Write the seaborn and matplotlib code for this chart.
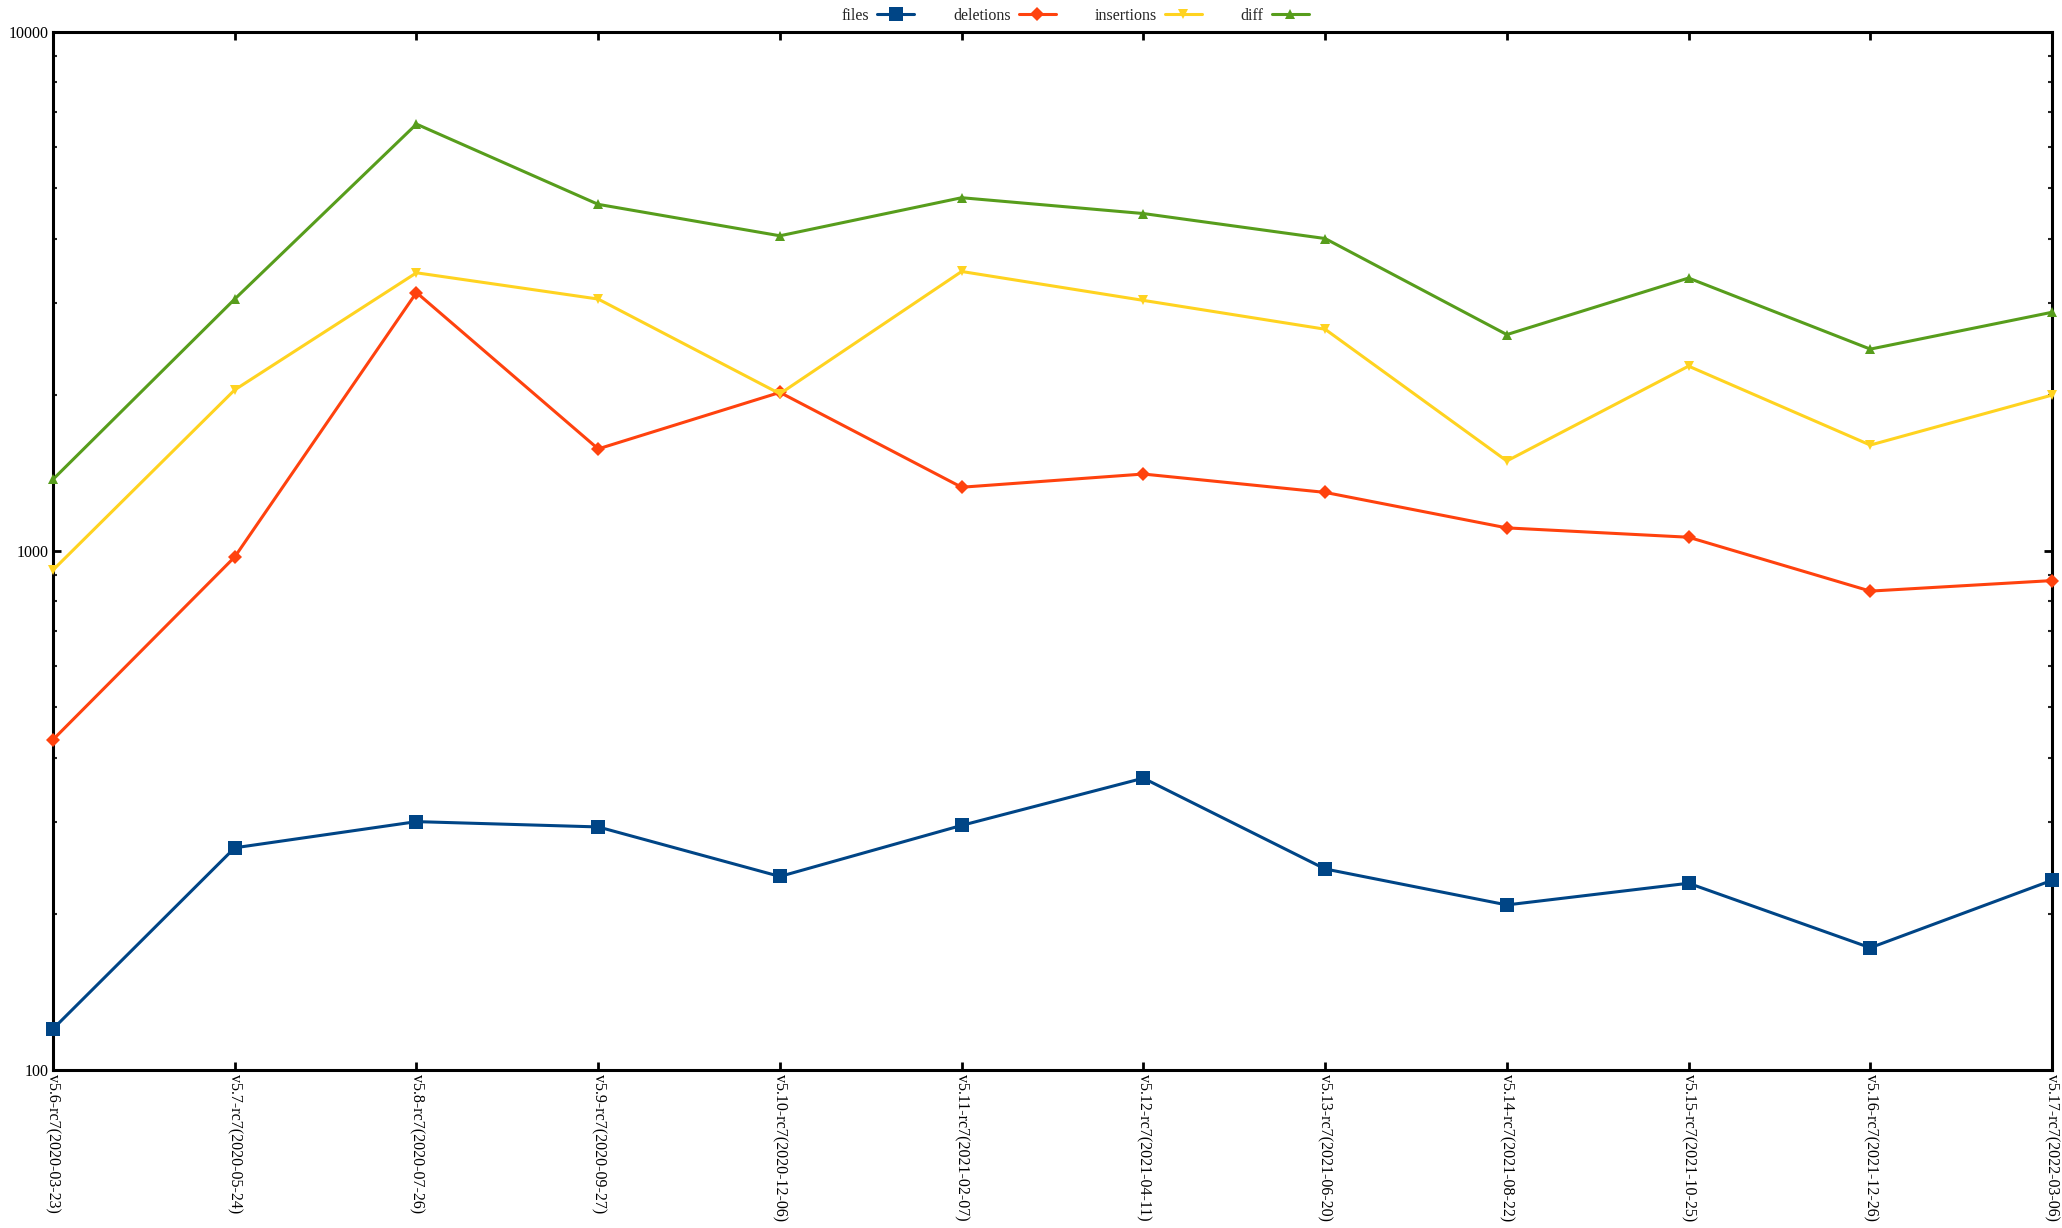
import matplotlib
matplotlib.use("Agg")
import matplotlib.pyplot as plt
import seaborn as sns
import pandas as pd
from matplotlib.ticker import LogLocator, NullFormatter, FixedLocator

versions = ["v5.6-rc7(2020-03-23)", "v5.7-rc7(2020-05-24)", "v5.8-rc7(2020-07-26)",
            "v5.9-rc7(2020-09-27)", "v5.10-rc7(2020-12-06)", "v5.11-rc7(2021-02-07)",
            "v5.12-rc7(2021-04-11)", "v5.13-rc7(2021-06-20)", "v5.14-rc7(2021-08-22)",
            "v5.15-rc7(2021-10-25)", "v5.16-rc7(2021-12-26)", "v5.17-rc7(2022-03-06)"]
files = [120, 268, 301, 294, 236, 296, 365, 244, 208, 229, 172, 232]
deletions = [433, 974, 3148, 1573, 2021, 1327, 1407, 1297, 1108, 1063, 837, 877]
insertions = [919, 2044, 3436, 3058, 2009, 3456, 3040, 2675, 1491, 2271, 1600, 1997]
diff = [1374, 3058, 6646, 4655, 4049, 4794, 4469, 4000, 2612, 3357, 2449, 2884]

series_names = ["files", "deletions", "insertions", "diff"]
series_values = [files, deletions, insertions, diff]
colors = {"files": "#004586", "deletions": "#ff420e", "insertions": "#ffd320", "diff": "#579d1c"}
markers = {"files": "s", "deletions": "D", "insertions": "v", "diff": "^"}
msizes = {"files": 9.5, "deletions": 7, "insertions": 7.5, "diff": 7.5}

rows = []
for name, vals in zip(series_names, series_values):
    for i, v in enumerate(vals):
        rows.append({"idx": i, "value": v, "series": name})
df = pd.DataFrame(rows)

sns.set_theme(style="ticks")
plt.rcParams['font.family'] = ['Liberation Serif', 'DejaVu Serif']

fig = plt.figure(figsize=(20.62, 12.28), dpi=100)
ax = fig.add_axes([53/2062, 1-1070/1228, (2052-53)/2062, (1070-32)/1228])

for name in series_names:
    sub = df[df.series == name]
    sns.lineplot(data=sub, x="idx", y="value", ax=ax, color=colors[name],
                 marker=markers[name], markersize=msizes[name], markeredgewidth=0,
                 linewidth=2.2, label=name, clip_on=False, zorder=3)

ax.set_yscale("log")
ax.set_ylim(100, 10000)
ax.set_xlim(0, len(versions) - 1)
ax.set_xlabel("")
ax.set_ylabel("")
ax.xaxis.set_major_locator(FixedLocator(range(len(versions))))
ax.set_xticklabels(versions, rotation=270, fontsize=11.5, va="top", ha="center")
ax.yaxis.set_minor_locator(LogLocator(base=10, subs=range(2, 10), numticks=10))
ax.yaxis.set_minor_formatter(NullFormatter())
ax.set_yticks([100, 1000, 10000])
ax.set_yticklabels(["100", "1000", "10000"], fontsize=11.5)
ax.tick_params(axis="both", which="major", direction="in", length=6, width=2,
               top=True, right=True, pad=3, colors="black")
ax.tick_params(axis="y", which="minor", direction="in", length=3, width=1.5,
               left=True, right=True)
for s in ax.spines.values():
    s.set_linewidth(2.2)
    s.set_color("black")
    s.set_visible(True)

handles, labels = ax.get_legend_handles_labels()
if ax.legend_:
    ax.legend_.remove()
fig.legend(handles, labels, loc="upper center", bbox_to_anchor=(0.5214, 1.0),
           ncol=4, frameon=False, markerfirst=False, fontsize=11.5,
           handlelength=2.3, columnspacing=2.45, handletextpad=0.5,
           borderaxespad=0.1)

fig.savefig("out.png", dpi=100, facecolor="white")
